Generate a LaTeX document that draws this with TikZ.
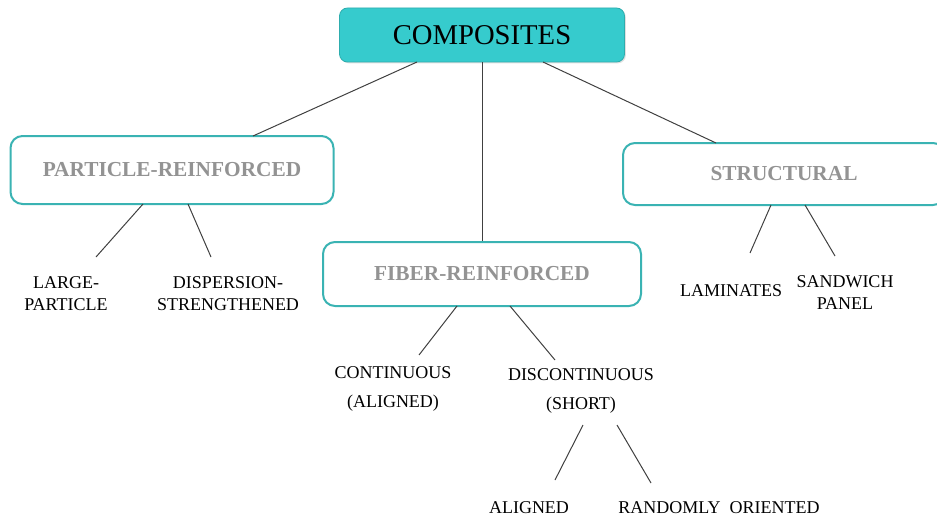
\documentclass[tikz,border=0pt]{standalone}
\usepackage{fontspec}
\setmainfont{Liberation Serif}
\usetikzlibrary{calc,shadows}
\definecolor{compteal}{HTML}{36CBCD}
\definecolor{boxteal}{HTML}{3AB3B3}
\definecolor{labelgray}{HTML}{939393}
\definecolor{linkgray}{HTML}{404040}
\tikzset{
  rootbox/.style={rectangle,rounded corners=6pt,minimum width=213.75pt,minimum height=40.5pt,
    draw=compteal!85!black,fill=compteal,text=black,line width=0.6pt,
    font=\fontsize{21.5}{24}\selectfont,
    drop shadow={shadow xshift=1pt,shadow yshift=-1pt,opacity=0.25}},
  groupbox/.style={rectangle,rounded corners=9pt,draw=boxteal,fill=white,line width=1.5pt,
    text=labelgray,font=\fontsize{16}{19}\selectfont\bfseries},
  leaf/.style={align=center,inner sep=0pt,text=black,
    font=\fontsize{13.5}{16.5}\selectfont},
  leafwide/.style={leaf,font=\fontsize{13.5}{21.5}\selectfont},
  link/.style={draw=linkgray,line width=0.75pt},
}
\begin{document}
\begin{tikzpicture}[x=0.75pt,y=-0.75pt]
  \useasboundingbox (0,0) rectangle (937,517);
  \clip (0,0) rectangle (937,517);
  % top
  \node[rootbox] (comp) at (482,35) {COMPOSITES};
  % groups
  \node[groupbox,minimum width=242.25pt,minimum height=51pt] (pr) at (172,170) {PARTICLE-REINFORCED};
  \node[groupbox,minimum width=238.5pt,minimum height=48pt] (fr) at (482,274) {FIBER-REINFORCED};
  \node[groupbox,minimum width=241.5pt,minimum height=46.5pt] (st) at (784,174) {STRUCTURAL};
  % leaves
  \node[leaf] (lp) at (66,294) {LARGE-\\PARTICLE};
  \node[leaf] (ds) at (228,294) {DISPERSION-\\STRENGTHENED};
  \node[leaf] (lam) at (731,291) {LAMINATES};
  \node[leaf] (sw) at (845,293) {SANDWICH\\PANEL};
  \node[leafwide] (co) at (393,389) {CONTINUOUS\\(ALIGNED)};
  \node[leafwide] (dc) at (581,391) {DISCONTINUOUS\\(SHORT)};
  \node[leaf] (al) at (529,508) {ALIGNED};
  \node[leaf] (ro) at (719,508) {RANDOMLY\ \ ORIENTED};
  % connectors
  \draw[link] ($(comp)+(-65,27)$) -- ($(pr)+(81,-34)$);
  \draw[link] (comp.south) -- (fr.north);
  \draw[link] ($(comp)+(61,27)$) -- ($(st)+(-68,-31)$);
  \draw[link] ($(pr)+(-29,34)$) -- ($(lp)+(30,-37)$);
  \draw[link] ($(pr)+(16,34)$) -- ($(ds)+(-17,-37)$);
  \draw[link] ($(st)+(-13,31)$) -- ($(lam)+(19,-38)$);
  \draw[link] ($(st)+(21,31)$) -- ($(sw)+(-10,-37)$);
  \draw[link] ($(fr)+(-25,32)$) -- ($(co)+(26,-34)$);
  \draw[link] ($(fr)+(28,32)$) -- ($(dc)+(-26,-31)$);
  \draw[link] ($(dc)+(2,34)$) -- ($(al)+(26,-28)$);
  \draw[link] ($(dc)+(36,34)$) -- ($(ro)+(-68,-25)$);
\end{tikzpicture}
\end{document}
